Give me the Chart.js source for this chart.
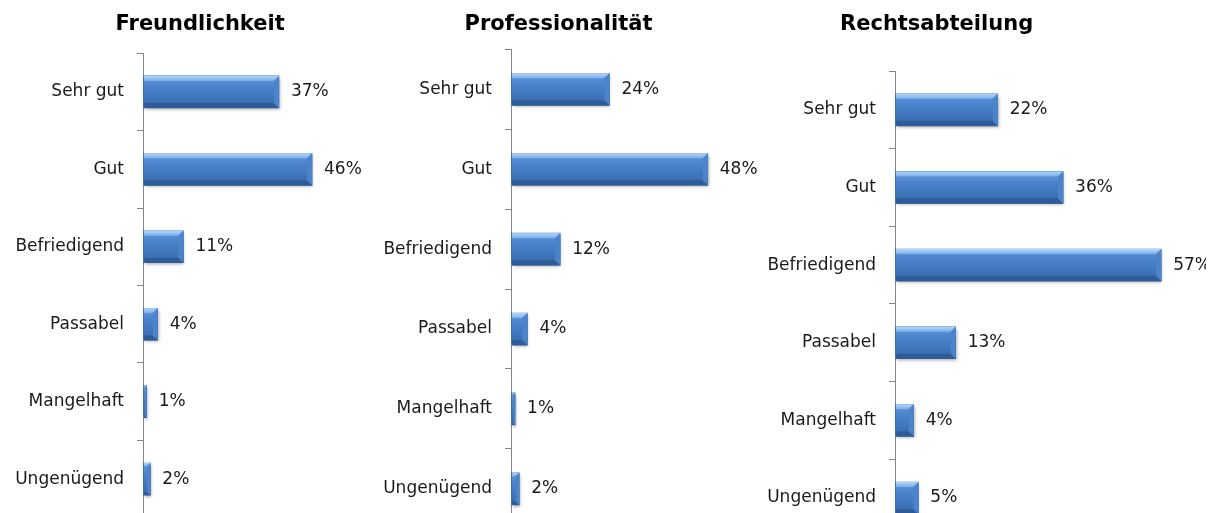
<!DOCTYPE html>
<html>
<head>
<meta charset="utf-8">
<script src="https://cdn.jsdelivr.net/npm/chart.js@4/dist/chart.umd.min.js"></script>
<style>
  html, body { margin: 0; padding: 0; background: #fff; overflow: hidden; }
  body { width: 1209px; height: 513px; position: relative; }
  .box { position: absolute; top: 0; }
</style>
</head>
<body>
<div class="box" style="left:0px"><canvas id="c1" width="426" height="541"></canvas></div>
<div class="box" style="left:360px"><canvas id="c2" width="422" height="552"></canvas></div>
<div class="box" style="left:698px"><canvas id="c3" width="508" height="560"></canvas></div>
<script>
  // Daten
  const categories = ["Sehr gut", "Gut", "Befriedigend", "Passabel", "Mangelhaft", "Ungenügend"];
  const freundlichkeit = [37, 46, 11, 4, 1, 2];
  const professionalitaet = [24, 48, 12, 4, 1, 2];
  const rechtsabteilung = [22, 36, 57, 13, 4, 5];
  const titles = ["Freundlichkeit", "Professionalität", "Rechtsabteilung"];

  const FONT = "'DejaVu Sans', Verdana, sans-serif";

  // Balken im Excel-Stil (Abschrägung) + Wertbeschriftung
  const barStyle = {
    id: "barStyle",
    afterDatasetsDraw(chart) {
      const ctx = chart.ctx;
      const meta = chart.getDatasetMeta(0);
      const data = chart.data.datasets[0].data;
      meta.data.forEach((bar, i) => {
        const p = bar.getProps(["x", "y", "base", "height"], true);
        const left = p.base + 1, right = p.x;
        const top = p.y - p.height / 2, bottom = p.y + p.height / 2;
        const w = right - left, h = p.height;
        const b = Math.max(1, Math.min(5, w / 2));

        ctx.save();
        ctx.shadowColor = "rgba(0,0,0,0.3)";
        ctx.shadowBlur = 3;
        ctx.shadowOffsetX = 1;
        ctx.shadowOffsetY = 2;
        const g = ctx.createLinearGradient(0, top, 0, bottom);
        g.addColorStop(0, "#5f98dc");
        g.addColorStop(0.35, "#4a83cb");
        g.addColorStop(1, "#3568a9");
        ctx.fillStyle = g;
        ctx.fillRect(left, top, w, h);
        ctx.restore();

        ctx.save();
        // oben
        const gt = ctx.createLinearGradient(0, top, 0, top + b);
        gt.addColorStop(0, "#b3d6fa");
        gt.addColorStop(1, "#79ade7");
        ctx.fillStyle = gt;
        ctx.beginPath();
        ctx.moveTo(left, top); ctx.lineTo(right, top);
        ctx.lineTo(right - b, top + b); ctx.lineTo(left, top + b);
        ctx.closePath(); ctx.fill();
        // unten
        ctx.fillStyle = "#2f5c98";
        ctx.beginPath();
        ctx.moveTo(left, bottom); ctx.lineTo(right, bottom);
        ctx.lineTo(right - b, bottom - b); ctx.lineTo(left, bottom - b);
        ctx.closePath(); ctx.fill();
        // rechts
        ctx.fillStyle = "#4b84ca";
        ctx.beginPath();
        ctx.moveTo(right, top); ctx.lineTo(right, bottom);
        ctx.lineTo(right - b, bottom - b); ctx.lineTo(right - b, top + b);
        ctx.closePath(); ctx.fill();

        ctx.fillStyle = "#1a1a1a";
        ctx.font = "17px " + FONT;
        ctx.textAlign = "left";
        ctx.textBaseline = "middle";
        ctx.fillText(data[i] + "%", p.x + 12, p.y);
        ctx.restore();
      });
    }
  };

  function makeChart(id, title, values, axisWidth, xMax, padRight, titleGap) {
    return new Chart(document.getElementById(id), {
      type: "bar",
      data: {
        labels: categories,
        datasets: [{
          data: values,
          backgroundColor: "#3f75bb",
          borderWidth: 0,
          barThickness: 32
        }]
      },
      options: {
        indexAxis: "y",
        responsive: false,
        animation: false,
        layout: { padding: { left: 0, right: padRight, top: 0, bottom: 0 } },
        plugins: {
          legend: { display: false },
          tooltip: { enabled: false },
          title: {
            display: true,
            text: title,
            color: "#000",
            font: { family: FONT, size: 21, weight: "bold" },
            padding: { top: 12, bottom: titleGap }
          }
        },
        scales: {
          x: { display: false, min: 0, max: xMax },
          y: {
            afterFit: (s) => { s.width = axisWidth; },
            border: { display: true, color: "#868686", width: 1 },
            grid: {
              display: true,
              offset: true,
              drawOnChartArea: false,
              drawTicks: true,
              tickLength: 6,
              color: "#868686"
            },
            ticks: {
              color: "#1a1a1a",
              padding: 13,
              font: { family: FONT, size: 17 }
            }
          }
        }
      },
      plugins: [barStyle]
    });
  }

  makeChart("c1", titles[0], freundlichkeit, 143, 70, 25.75, 16);
  makeChart("c2", titles[1], professionalitaet, 151, 60, 25, 12.2);
  makeChart("c3", titles[2], rechtsabteilung, 197, 60, 30.8, 33.8);
</script>
</body>
</html>
